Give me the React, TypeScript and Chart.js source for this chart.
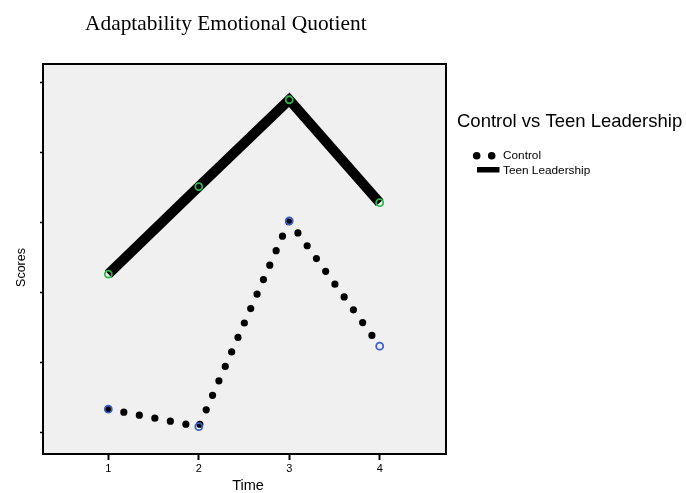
import React, { useEffect, useRef } from "react";
import { Chart, registerables } from "chart.js";

Chart.register(...registerables);

const chartTitle = "Adaptability Emotional Quotient";
const legendTitle = "Control vs Teen Leadership";
const xAxisTitle = "Time";
const yAxisTitle = "Scores";
const times = [1, 2, 3, 4];
const xTickValues = [1, 2, 3, 4];
const yTickValues = [0, 1, 2, 3, 4, 5];
const controlLabel = "Control";
const teenLabel = "Teen Leadership";
const controlScores = [0.34, 0.09, 3.03, 1.24];
const teenScores = [2.27, 3.52, 4.76, 3.29];

const SANS = "'Liberation Sans', Arial, sans-serif";
const SERIF = "'Liberation Serif', 'Times New Roman', serif";

const overlay = {
  id: "overlay",
  beforeDraw(chart: any) {
    const { ctx, chartArea: a } = chart;
    ctx.save();
    ctx.fillStyle = "#ffffff";
    ctx.fillRect(0, 0, chart.width, chart.height);
    ctx.fillStyle = "#f0f0f0";
    ctx.fillRect(a.left, a.top, a.right - a.left, a.bottom - a.top);
    ctx.restore();
  },
  afterDraw(chart: any) {
    const { ctx, chartArea: a } = chart;
    ctx.save();
    // frame
    ctx.strokeStyle = "#000";
    ctx.lineWidth = 2;
    ctx.strokeRect(a.left, a.top, a.right - a.left, a.bottom - a.top);

    // main title
    ctx.fillStyle = "#000";
    ctx.font = `21.4px ${SERIF}`;
    ctx.textAlign = "left";
    ctx.textBaseline = "alphabetic";
    ctx.fillText(chartTitle, 85, 30);

    // axis titles
    ctx.font = `14.5px ${SANS}`;
    ctx.textAlign = "center";
    ctx.textBaseline = "middle";
    ctx.fillText(xAxisTitle, 248, 486);

    ctx.save();
    ctx.translate(21.5, 267.5);
    ctx.rotate(-Math.PI / 2);
    ctx.font = `12.5px ${SANS}`;
    ctx.fillText(yAxisTitle, 0, 0);
    ctx.restore();

    // legend
    ctx.textAlign = "left";
    ctx.textBaseline = "middle";
    ctx.font = `18.5px ${SANS}`;
    ctx.fillText(legendTitle, 457, 122);

    ctx.beginPath();
    ctx.arc(476.7, 155.7, 3.8, 0, Math.PI * 2);
    ctx.arc(491.7, 155.7, 3.8, 0, Math.PI * 2);
    ctx.fill();
    ctx.fillRect(477, 167, 22.5, 5.5);

    ctx.font = `11.8px ${SANS}`;
    ctx.fillText(controlLabel, 503, 156);
    ctx.fillText(teenLabel, 503, 170.5);
    ctx.restore();
  },
};

export default function App() {
  const ref = useRef<HTMLCanvasElement>(null);

  useEffect(() => {
    if (!ref.current) return;
    const chart = new Chart(ref.current, {
      type: "line",
      data: {
        datasets: [
          {
            label: controlLabel,
            data: times.map((t, i) => ({ x: t, y: controlScores[i] })),
            borderColor: "#000",
            borderWidth: 7.2,
            borderDash: [0, 15.8],
            borderCapStyle: "round",
            borderJoinStyle: "round",
            pointRadius: 3.5,
            pointBorderWidth: 1.8,
            pointBorderColor: "#3a5fcd",
            pointBackgroundColor: "rgba(0,0,0,0)",
            tension: 0,
          },
          {
            label: teenLabel,
            data: times.map((t, i) => ({ x: t, y: teenScores[i] })),
            borderColor: "#000",
            borderWidth: 10,
            borderCapStyle: "butt",
            borderJoinStyle: "miter",
            pointRadius: 3.5,
            pointBorderWidth: 1.8,
            pointBorderColor: "#2fb84a",
            pointBackgroundColor: "rgba(0,0,0,0)",
            tension: 0,
          },
        ],
      },
      options: {
        animation: false,
        responsive: false,
        events: [],
        layout: { padding: { left: 0, top: 64, right: 240, bottom: 0 } },
        plugins: {
          legend: { display: false },
          title: { display: false },
          tooltip: { enabled: false },
        },
        font: { family: SANS },
        scales: {
          x: {
            type: "linear",
            min: 0.278,
            max: 4.733,
            afterFit: (s: any) => {
              s.height = 39;
            },
            afterBuildTicks: (s: any) => {
              s.ticks = xTickValues.map((v) => ({ value: v }));
            },
            border: { display: false },
            grid: {
              display: true,
              drawOnChartArea: false,
              drawTicks: true,
              tickLength: 6,
              tickWidth: 2,
              tickColor: "#000",
            },
            ticks: {
              color: "#000",
              padding: 2,
              font: { family: SANS, size: 11 },
              maxRotation: 0,
            },
          },
          y: {
            type: "linear",
            min: -0.3,
            max: 5.271,
            afterFit: (s: any) => {
              s.width = 43;
            },
            afterBuildTicks: (s: any) => {
              s.ticks = yTickValues.map((v) => ({ value: v }));
            },
            border: { display: false },
            grid: {
              display: true,
              drawOnChartArea: false,
              drawTicks: true,
              tickLength: 3,
              tickWidth: 1.5,
              tickColor: "#000",
            },
            ticks: { display: false },
          },
        },
      },
      plugins: [overlay],
    } as any);
    return () => chart.destroy();
  }, []);

  return (
    <div style={{ position: "absolute", left: 0, top: 0, width: 686, height: 493, background: "#fff" }}>
      <canvas ref={ref} width={686} height={493} style={{ display: "block" }} />
    </div>
  );
}
